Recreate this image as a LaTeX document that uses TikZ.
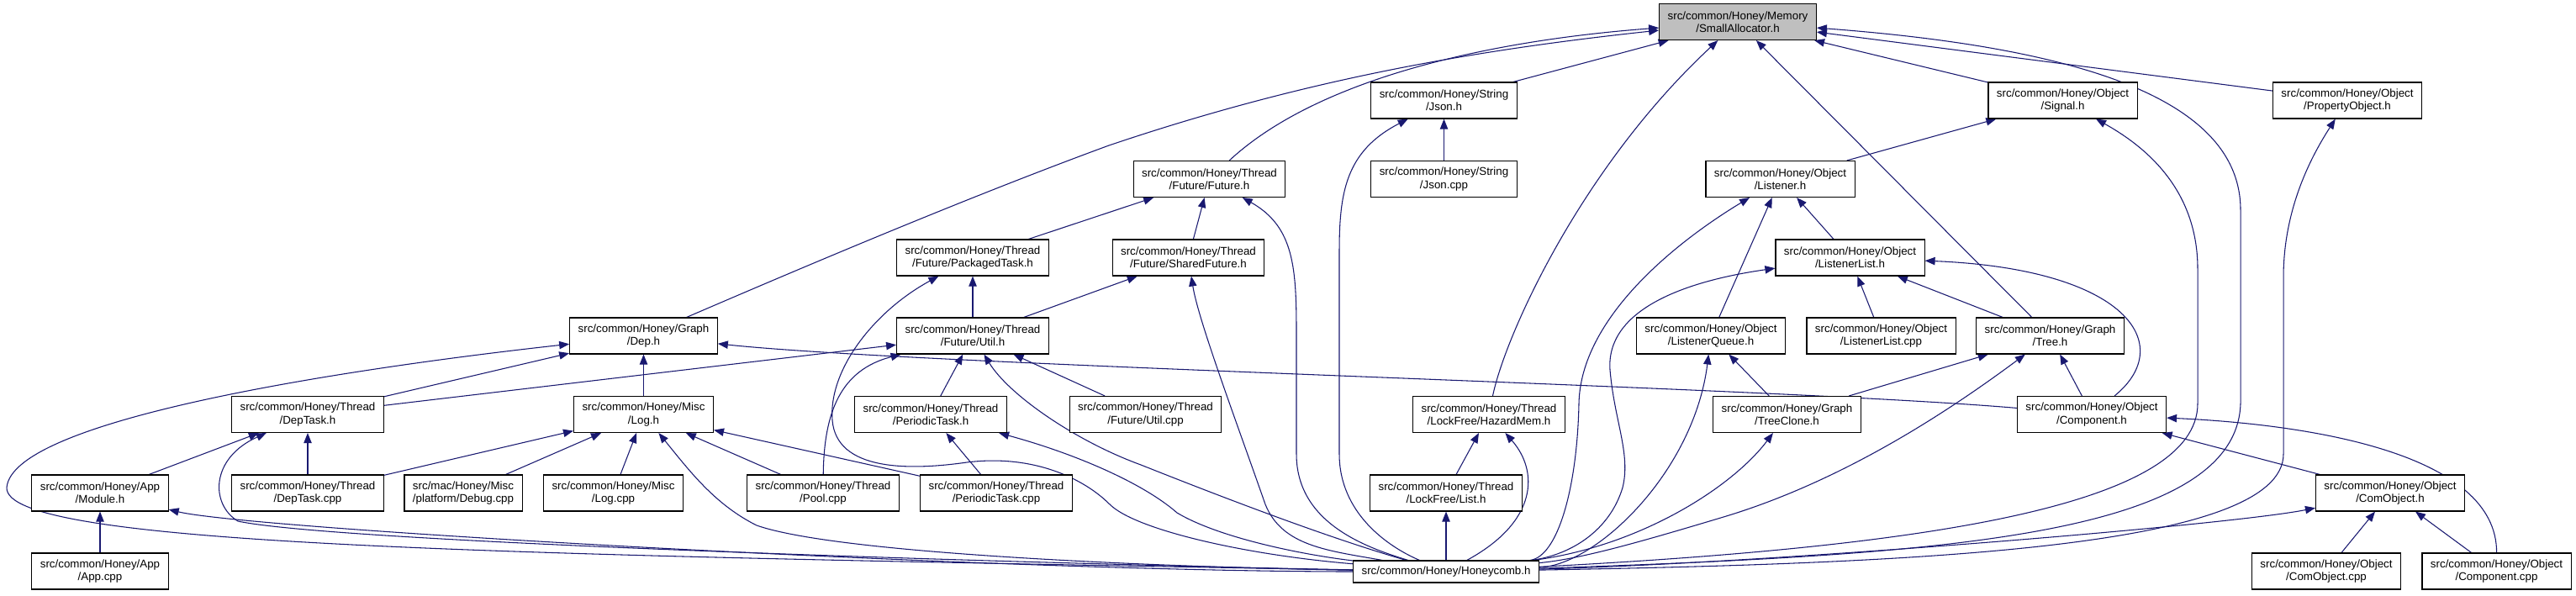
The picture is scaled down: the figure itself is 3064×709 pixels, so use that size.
\documentclass[tikz,border=0pt]{standalone}
\usepackage{fontspec}
\setmainfont{Liberation Sans}
\usetikzlibrary{arrows.meta,backgrounds}
\definecolor{Ink}{HTML}{000000}
\definecolor{Edge}{HTML}{191970}
\definecolor{Root}{HTML}{BFBFBF}
\tikzset{
  fl/.style={rectangle,draw=Ink,fill=white,line width=0.8pt,font=\fontsize{10}{11.5}\selectfont,align=center,inner xsep=7.5pt,inner ysep=0pt,minimum height=32.25pt},
  rt/.style={fl,fill=Root},
  one/.style={fl,minimum height=19.5pt},
  inc/.style={draw=Edge,line width=0.8pt,{Triangle[length=9pt,width=7pt]}-},
}

\begin{document}
\begin{tikzpicture}[x=0.75pt,y=-0.75pt]
\useasboundingbox (0,0) rectangle (3064,709);
% -row 0-
\node[rt] (SA) at (2067,26) {src/common/Honey/Memory\\/SmallAllocator.h};
% -row 1-
\node[fl] (Js) at (1717.5,119.5) {src/common/Honey/String\\/Json.h};
\node[fl] (Sig) at (2453.5,119.5) {src/common/Honey/Object\\/Signal.h};
\node[fl] (Prop) at (2792,119.5) {src/common/Honey/Object\\/PropertyObject.h};
% -row 2-
\node[fl] (Fut) at (1438.5,213) {src/common/Honey/Thread\\/Future/Future.h};
\node[fl] (JsC) at (1717.5,213) {src/common/Honey/String\\/Json.cpp};
\node[fl] (Lis) at (2117.5,213) {src/common/Honey/Object\\/Listener.h};
% -row 3-
\node[fl] (Pkg) at (1157,306.5) {src/common/Honey/Thread\\/Future/PackagedTask.h};
\node[fl] (Shf) at (1413.5,306.5) {src/common/Honey/Thread\\/Future/SharedFuture.h};
\node[fl] (LL) at (2200.5,306.5) {src/common/Honey/Object\\/ListenerList.h};
% -row 4-
\node[fl] (Dep) at (765.5,399.5) {src/common/Honey/Graph\\/Dep.h};
\node[fl] (Utl) at (1157,399.5) {src/common/Honey/Thread\\/Future/Util.h};
\node[fl] (LQ) at (2035,399.5) {src/common/Honey/Object\\/ListenerQueue.h};
\node[fl] (LLC) at (2237.5,399.5) {src/common/Honey/Object\\/ListenerList.cpp};
\node[fl] (Tr) at (2438.5,399.5) {src/common/Honey/Graph\\/Tree.h};
% -row 5-
\node[fl] (DT) at (366,493) {src/common/Honey/Thread\\/DepTask.h};
\node[fl] (Log) at (765.5,493) {src/common/Honey/Misc\\/Log.h};
\node[fl] (Per) at (1107,493) {src/common/Honey/Thread\\/PeriodicTask.h};
\node[fl] (UtC) at (1362.5,493) {src/common/Honey/Thread\\/Future/Util.cpp};
\node[fl] (Hz) at (1771,493) {src/common/Honey/Thread\\/LockFree/HazardMem.h};
\node[fl] (TC) at (2125.5,493) {src/common/Honey/Graph\\/TreeClone.h};
\node[fl] (Cmp) at (2488,493) {src/common/Honey/Object\\/Component.h};
% -row 6-
\node[fl] (Mod) at (119,586.5) {src/common/Honey/App\\/Module.h};
\node[fl] (DTC) at (366,586.5) {src/common/Honey/Thread\\/DepTask.cpp};
\node[fl] (Dbg) at (551,586.5) {src/mac/Honey/Misc\\/platform/Debug.cpp};
\node[fl] (LgC) at (729.5,586.5) {src/common/Honey/Misc\\/Log.cpp};
\node[fl] (Pool) at (979,586.5) {src/common/Honey/Thread\\/Pool.cpp};
\node[fl] (PeC) at (1185,586.5) {src/common/Honey/Thread\\/PeriodicTask.cpp};
\node[fl] (Lst) at (1720,586.5) {src/common/Honey/Thread\\/LockFree/List.h};
\node[fl] (CO) at (2843,586.5) {src/common/Honey/Object\\/ComObject.h};
% -row 7-
\node[fl] (App) at (119,679.5) {src/common/Honey/App\\/App.cpp};
\node[one] (Hc) at (1720,680) {src/common/Honey/Honeycomb.h};
\node[fl] (COC) at (2767,679.5) {src/common/Honey/Object\\/ComObject.cpp};
\node[fl] (CmC) at (2969.5,679.5) {src/common/Honey/Object\\/Component.cpp};

\begin{scope}[on background layer]
% -into SmallAllocator-
\draw[inc] (SA) .. controls (1750,60) and (1550,95) .. (1319,173) .. controls (1150,235) and (950,320) .. (Dep);
\draw[inc] (SA) .. controls (1750,50) and (1560,100) .. (Fut);
\draw[inc] (SA) -- (Js);
\draw[inc] (SA) .. controls (1880,200) and (1790,400) .. (Hz);
\draw[inc] (SA) -- (Tr);
\draw[inc] (SA) -- (Sig);
\draw[inc] (SA) -- (Prop);
\draw[inc] (SA) .. controls (2450,55) and (2665,110) .. (2665,250) -- (2665,480) .. controls (2660,640) and (2300,660) .. (Hc);
% -String, Future-
\draw[inc] (Js) -- (JsC);
\draw[inc] (Js) .. controls (1600,180) and (1593,230) .. (1593,300) -- (1593,540) .. controls (1593,610) and (1650,650) .. (Hc);
\draw[inc] (Fut) -- (Pkg);
\draw[inc] (Fut) -- (Shf);
\draw[inc] (Fut) .. controls (1540,270) and (1542,320) .. (1542,400) -- (1542,540) .. controls (1542,620) and (1620,650) .. (Hc);
\draw[inc] (Pkg) -- (Utl);
\draw[inc] (Pkg) .. controls (1040,370) and (985,440) .. (990,500) .. controls (995,560) and (1080,560) .. (1150,550) .. controls (1230,540) and (1290,570) .. (1320,600) .. controls (1350,630) and (1480,660) .. (Hc);
\draw[inc] (Shf) -- (Utl);
\draw[inc] (Shf) .. controls (1425,380) and (1470,500) .. (1505,600) .. controls (1525,650) and (1580,655) .. (Hc);
% -Object, upper-
\draw[inc] (Sig) -- (Lis);
\draw[inc] (Sig) .. controls (2580,190) and (2614,250) .. (2614,320) -- (2614,480) .. controls (2614,600) and (2300,650) .. (Hc);
\draw[inc] (Prop) .. controls (2740,200) and (2716,260) .. (2716,330) -- (2716,540) .. controls (2716,650) and (2300,670) .. (Hc);
\draw[inc] (Lis) -- (LQ);
\draw[inc] (Lis) -- (LL);
\draw[inc] (Lis) .. controls (1990,290) and (1880,380) .. (1878,480) .. controls (1876,580) and (1853,662) .. (Hc);
\draw[inc] (LL) -- (LLC);
\draw[inc] (LL) -- (Tr);
\draw[inc] (LL) .. controls (2530,320) and (2590,410) .. (Cmp);
\draw[inc] (LL) .. controls (2000,335) and (1910,370) .. (1915,440) .. controls (1920,500) and (1940,540) .. (1930,580) .. controls (1915,630) and (1870,660) .. (Hc);
% -Dep, Util-
\draw[inc] (Dep) -- (Log);
\draw[inc] (Dep) -- (DT);
\draw[inc] (Dep) .. controls (1100,435) and (2100,460) .. (Cmp);
\draw[inc] (Dep) .. controls (400,440) and (15,500) .. (8,580) .. controls (5,650) and (600,660) .. (Hc);
\draw[inc] (Utl) -- (DT);
\draw[inc] (Utl) -- (Per);
\draw[inc] (Utl) -- (UtC);
\draw[inc] (Utl) .. controls (1000,440) and (980,490) .. (Pool);
\draw[inc] (Utl) .. controls (1200,470) and (1280,525) .. (1357,553) .. controls (1450,590) and (1580,640) .. (Hc);
% -Object, lower-
\draw[inc] (LQ) -- (TC);
\draw[inc] (LQ) .. controls (2015,560) and (1900,672) .. (Hc);
\draw[inc] (Tr) -- (TC);
\draw[inc] (Tr) -- (Cmp);
\draw[inc] (Tr) .. controls (2330,480) and (2200,570) .. (2050,615) .. controls (1950,645) and (1880,665) .. (Hc);
\draw[inc] (TC) .. controls (2060,580) and (1950,650) .. (Hc);
\draw[inc] (Cmp) -- (CO);
\draw[inc] (Cmp) .. controls (2750,505) and (2970,540) .. (CmC);
\draw[inc] (CO) -- (COC);
\draw[inc] (CO) -- (CmC);
\draw[inc] (CO) .. controls (2650,625) and (2100,670) .. (Hc);
% -Thread, Misc, App-
\draw[inc] (DT) -- (Mod);
\draw[inc] (DT) -- (DTC);
\draw[inc] (DT) .. controls (250,545) and (250,600) .. (283,620) .. controls (400,645) and (1200,670) .. (Hc);
\draw[inc] (Log) -- (DTC);
\draw[inc] (Log) -- (Dbg);
\draw[inc] (Log) -- (LgC);
\draw[inc] (Log) -- (Pool);
\draw[inc] (Log) -- (PeC);
\draw[inc] (Log) .. controls (820,560) and (850,600) .. (900,625) .. controls (1000,660) and (1400,675) .. (Hc);
\draw[inc] (Per) -- (PeC);
\draw[inc] (Per) .. controls (1280,540) and (1360,575) .. (1400,610) .. controls (1450,640) and (1550,660) .. (Hc);
\draw[inc] (Hz) -- (Lst);
\draw[inc] (Hz) .. controls (1830,560) and (1830,620) .. (Hc);
\draw[inc] (Mod) -- (App);
\draw[inc] (Mod) .. controls (300,630) and (1200,680) .. (Hc);
\draw[inc] (Lst) -- (Hc);
\end{scope}
\end{tikzpicture}
\end{document}
